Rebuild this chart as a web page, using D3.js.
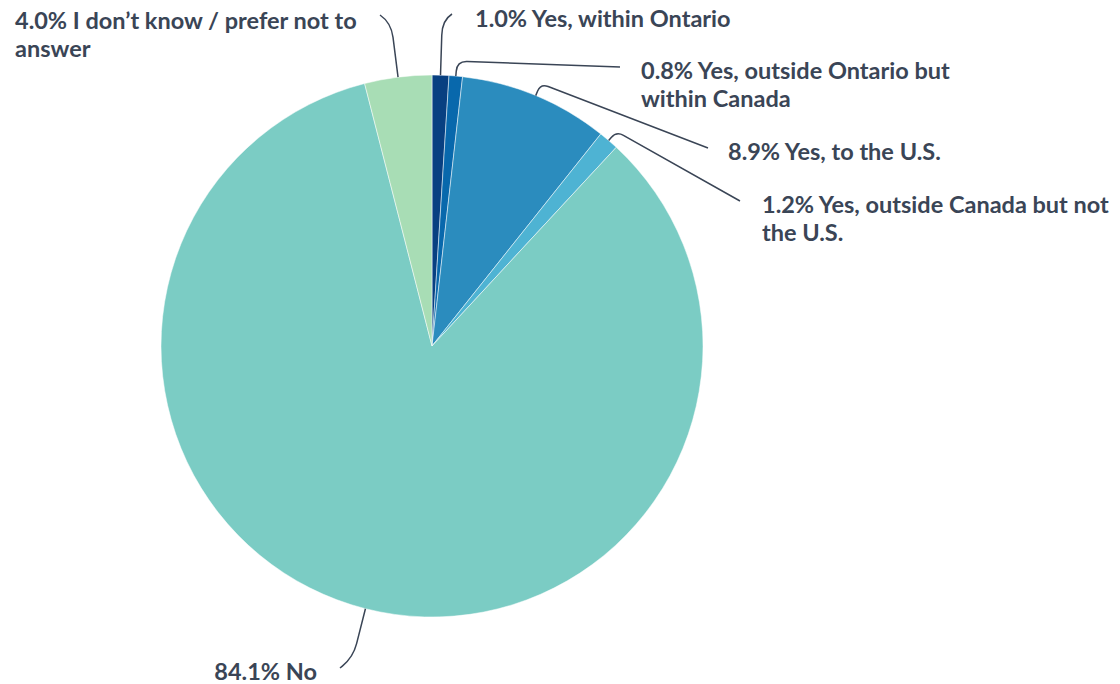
<!DOCTYPE html>
<html>
<head>
<meta charset="utf-8">
<script src="https://cdn.jsdelivr.net/npm/d3@7"></script>
<style>
  html, body { margin: 0; padding: 0; background: #ffffff; }
  svg { display: block; }
  .lbl { font-family: Lato, "Open Sans", sans-serif; font-weight: 700; font-size: 23.5px; fill: #3a4556; }
</style>
</head>
<body>
<svg id="chart" width="1120" height="684"></svg>
<script>
// Survey responses, clockwise from 12 o'clock
const categories = [
  "Yes, within Ontario",
  "Yes, outside Ontario but within Canada",
  "Yes, to the U.S.",
  "Yes, outside Canada but not the U.S.",
  "No",
  "I don’t know / prefer not to answer"
];
const values = [1.0, 0.8, 8.9, 1.2, 84.1, 4.0];
const colors = ["#084081", "#0868ac", "#2b8cbe", "#4eb3d3", "#7bccc4", "#a8ddb5"];

// Label placement: connector end point, text origin, elbow distance, corner radius, words on line 1
const labelLayout = [
  { end: [452, 14],  tx: 475, ty: 27,  anchor: "start", elbow: 55, corner: 15, breakAt: null },
  { end: [620, 67],  tx: 641, ty: 79,  anchor: "start", elbow: 15, corner: 10, breakAt: 5 },
  { end: [708, 148], tx: 728, ty: 160, anchor: "start", elbow: 13, corner: 8,  breakAt: null },
  { end: [740, 201], tx: 762, ty: 213, anchor: "start", elbow: 12, corner: 8,  breakAt: 6 },
  { end: [340, 668], tx: 317, ty: 680, anchor: "end",   elbow: 50, corner: 14, breakAt: null },
  { end: [380, 15],  tx: 15,  ty: 29,  anchor: "start", elbow: 55, corner: 15, breakAt: 8 }
];
const lineHeight = 28;

const svg = d3.select("#chart");
const cx = 432, cy = 346, radius = 271;
const g = svg.append("g").attr("transform", `translate(${cx},${cy})`);

const pie = d3.pie().sort(null).value(d => d)(values);
const arc = d3.arc().innerRadius(0).outerRadius(radius);

g.selectAll("path.slice")
  .data(pie)
  .join("path")
  .attr("class", "slice")
  .attr("d", arc)
  .attr("fill", (d, i) => colors[i])
  .attr("stroke", "#ffffff")
  .attr("stroke-width", 0.5);

// Connectors: radial segment out of the slice, rounded elbow, then a line to the label
function connector(d, L) {
  const a = (d.startAngle + d.endAngle) / 2;
  const u = [Math.sin(a), -Math.cos(a)];
  const p0 = [cx + u[0] * radius, cy + u[1] * radius];
  const p1 = [p0[0] + u[0] * L.elbow, p0[1] + u[1] * L.elbow];
  const p2 = L.end;
  const seg = Math.hypot(p2[0] - p1[0], p2[1] - p1[1]);
  const v = [(p2[0] - p1[0]) / seg, (p2[1] - p1[1]) / seg];
  const r1 = Math.min(L.corner, L.elbow);
  const r2 = Math.min(L.corner, seg);
  const A = [p1[0] - u[0] * r1, p1[1] - u[1] * r1];
  const B = [p1[0] + v[0] * r2, p1[1] + v[1] * r2];
  const path = d3.path();
  path.moveTo(p0[0], p0[1]);
  path.lineTo(A[0], A[1]);
  path.quadraticCurveTo(p1[0], p1[1], B[0], B[1]);
  path.lineTo(p2[0], p2[1]);
  return path.toString();
}

svg.selectAll("path.connector")
  .data(pie)
  .join("path")
  .attr("class", "connector")
  .attr("d", (d, i) => connector(d, labelLayout[i]))
  .attr("fill", "none")
  .attr("stroke", "#3a4556")
  .attr("stroke-width", 1.5);

const labels = svg.selectAll("text.lbl")
  .data(pie)
  .join("text")
  .attr("class", "lbl")
  .attr("x", (d, i) => labelLayout[i].tx)
  .attr("y", (d, i) => labelLayout[i].ty)
  .attr("text-anchor", (d, i) => labelLayout[i].anchor);

labels.each(function (d, i) {
  const L = labelLayout[i];
  const words = (d.value.toFixed(1) + "% " + categories[i]).split(" ");
  const lines = L.breakAt ? [words.slice(0, L.breakAt).join(" "), words.slice(L.breakAt).join(" ")]
                          : [words.join(" ")];
  d3.select(this).selectAll("tspan")
    .data(lines)
    .join("tspan")
    .attr("x", L.tx)
    .attr("dy", (t, k) => k === 0 ? 0 : lineHeight)
    .text(t => t);
});
</script>
</body>
</html>
